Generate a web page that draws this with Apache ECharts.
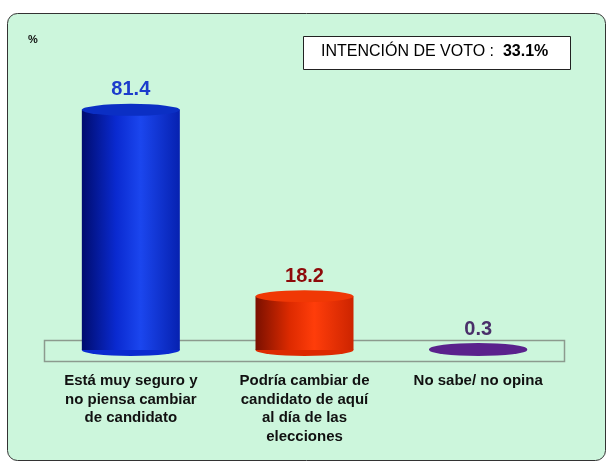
<!DOCTYPE html>
<html>
<head>
<meta charset="utf-8">
<script src="https://cdn.jsdelivr.net/npm/echarts@6/dist/echarts.min.js"></script>
<style>
html, body { margin: 0; padding: 0; background: #ffffff; }
#main { width: 611px; height: 462px; }
</style>
</head>
<body>
<div id="main"></div>
<script>
var categories = ['Está muy seguro y\nno piensa cambiar\nde candidato',
                  'Podría cambiar de\ncandidato de aquí\nal día de las\nelecciones',
                  'No sabe/ no opina'];
var values = [81.4, 18.2, 0.3];
var labelColors = ['#1c3ccc', '#8e0a0a', '#4a2f6a'];
var bodyColors = [
    ['#000c6e', '#0a2ad0', '#1b46ee', '#0621b0'],
    ['#7a1000', '#dd2a00', '#ff3d0a', '#cc2400'],
    ['#3e1268', '#5b2590', '#6b2ea4', '#4e1d80']
];
var capColors = ['#0b2fc4', '#f03805', '#5a228c'];
var voto = '33.1%';

var myChart = echarts.init(document.getElementById('main'));

function grad(c) {
    return new echarts.graphic.LinearGradient(0, 0, 1, 0, [
        { offset: 0, color: c[0] },
        { offset: 0.35, color: c[1] },
        { offset: 0.6, color: c[2] },
        { offset: 1, color: c[3] }
    ]);
}

var bodyData = values.map(function (v, i) {
    return {
        value: v,
        itemStyle: { color: grad(bodyColors[i]) },
        label: { color: labelColors[i] }
    };
});
var capData = values.map(function (v, i) {
    return { value: v, itemStyle: { color: capColors[i] } };
});
var baseData = values.map(function (v, i) {
    return { value: v, itemStyle: { color: bodyColors[i][1] } };
});

var option = {
    backgroundColor: '#ffffff',
    animation: false,
    textStyle: { fontFamily: 'Liberation Sans, Arial, sans-serif' },
    grid: {
        left: 44,
        width: 521,
        top: 55,
        height: 295
    },
    graphic: [
        {
            type: 'rect', z: -10,
            shape: { x: 7.5, y: 13.5, width: 598, height: 447, r: 10 },
            style: { fill: '#ccf6dc', stroke: '#333333', lineWidth: 1 }
        },
        {
            type: 'rect', z: -5,
            shape: { x: 44.5, y: 340.5, width: 520, height: 21 },
            style: { fill: 'rgba(0,0,0,0)', stroke: '#8c9a8e', lineWidth: 1.5 }
        },
        {
            type: 'text', left: 28, top: 34,
            style: { text: '%', font: 'bold 11px Liberation Sans', fill: '#111' }
        },
        {
            type: 'rect',
            shape: { x: 303.5, y: 36.5, width: 267, height: 33 },
            style: { fill: '#ffffff', stroke: '#222222', lineWidth: 1 }
        },
        {
            type: 'text', left: 321, top: 44,
            style: {
                text: '{a|INTENCIÓN DE VOTO :  }{b|' + voto + '}',
                rich: {
                    a: { fontSize: 16, fontFamily: 'Liberation Sans', color: '#111' },
                    b: { fontSize: 16, fontWeight: 'bold', fontFamily: 'Liberation Sans', color: '#111' }
                }
            }
        }
    ],
    xAxis: {
        type: 'category',
        data: categories,
        axisLine: { show: false },
        axisTick: { show: false },
        axisLabel: {
            margin: 22,
            interval: 0,
            fontSize: 15,
            fontWeight: 'bold',
            lineHeight: 18.5,
            color: '#111111',
            fontFamily: 'Liberation Sans'
        }
    },
    yAxis: {
        type: 'value',
        min: 0,
        max: 100,
        show: false,
        splitLine: { show: false }
    },
    series: [
        {
            type: 'pictorialBar',
            symbol: 'circle',
            symbolSize: [98, 12],
            symbolOffset: [0, '50%'],
            symbolPosition: 'start',
            z: 1,
            data: baseData
        },
        {
            type: 'bar',
            barWidth: 98,
            z: 2,
            data: bodyData,
            label: {
                show: true,
                position: 'top',
                distance: 10,
                fontSize: 20,
                fontWeight: 'bold',
                fontFamily: 'Liberation Sans'
            }
        },
        {
            type: 'pictorialBar',
            symbol: 'circle',
            symbolSize: [98, 12],
            symbolOffset: [0, '-50%'],
            symbolPosition: 'end',
            z: 3,
            data: capData
        }
    ]
};
myChart.setOption(option);
</script>
</body>
</html>
